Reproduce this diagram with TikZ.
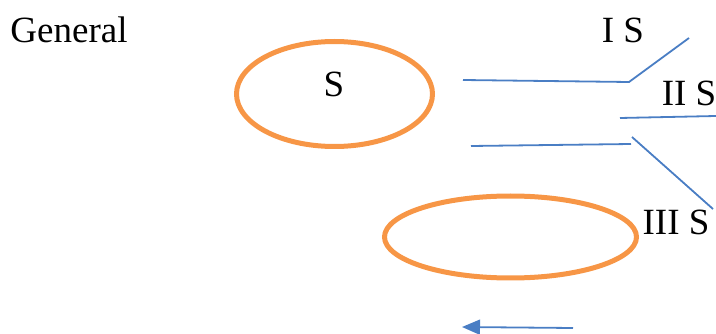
\documentclass[tikz,border=0pt]{standalone}
\usepackage{fontspec}
\setmainfont{Liberation Serif}
\usetikzlibrary{shapes.geometric,arrows.meta}
\definecolor{ringorange}{HTML}{F79646}
\definecolor{lineblue}{HTML}{4A7EC4}
\tikzset{
  ring/.style={draw=ringorange, line width=5pt, ellipse, inner sep=0pt},
  conn/.style={draw=lineblue, line width=1.8pt},
  lbl/.style={font=\fontsize{37}{40}\selectfont, inner sep=0pt}
}
\begin{document}
\begin{tikzpicture}[x=1pt,y=-1pt]
    \useasboundingbox (0,0) rectangle (716,334);
    % ovals
    \node[ring, minimum width=196pt, minimum height=105pt] (top) at (334.5,94) {};
    \node[ring, minimum width=252pt, minimum height=82pt] (low) at (510.5,237) {};
    % texts
    \node[lbl] (gen) at (69,30) {General};
    \node[lbl] (s) at (334,84.5) {S};
    \node[lbl] (is) at (623,30) {I S};
    \node[lbl] (iis) at (689,93) {II S};
    \node[lbl] (iiis) at (676,222) {III S};
    % line ends
    \foreach \n/\x/\y in {a1/463/80,a2/629/82,a3/689/38,
      b1/620/118,b2/716/116,
      c1/471/146,c2/631/144,c3/632/137,c4/713/209,
      d1/573/328,d2/462/327}
    \coordinate (\n) at (\x,\y);
    \draw[conn] (a1) -- (a2) -- (a3);
    \draw[conn] (b1) -- (b2);
    \draw[conn] (c1) -- (c2);
    \draw[conn] (c3) -- (c4);
    \draw[conn, -{Triangle[length=18pt,width=15pt]}] (d1) -- (d2);
  \end{tikzpicture}
\end{document}
